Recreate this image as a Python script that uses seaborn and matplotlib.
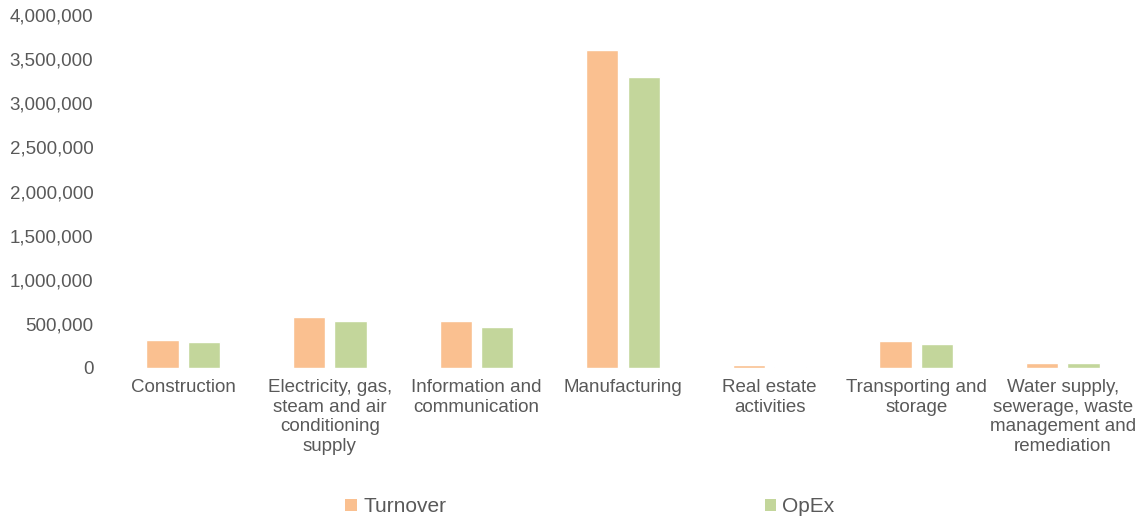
import matplotlib
matplotlib.use("Agg")
import matplotlib.pyplot as plt
import seaborn as sns
import pandas as pd
from matplotlib.ticker import FuncFormatter, MultipleLocator
from matplotlib.patches import Patch

categories = [
    "Construction",
    "Electricity, gas,\nsteam and air\nconditioning\nsupply",
    "Information and\ncommunication",
    "Manufacturing",
    "Real estate\nactivities",
    "Transporting and\nstorage",
    "Water supply,\nsewerage, waste\nmanagement and\nremediation",
]
turnover = [317000, 578000, 533000, 3605000, 34000, 306000, 57000]
opex = [295000, 533000, 465000, 3296000, 14000, 272000, 57000]
series = ["Turnover", "OpEx"]
colors = ["#FAC090", "#C3D69B"]

df = pd.DataFrame({
    "category": categories * 2,
    "value": turnover + opex,
    "series": [series[0]] * len(categories) + [series[1]] * len(categories),
})

sns.set_theme(style="white")
plt.rcParams["font.family"] = ["Liberation Sans", "DejaVu Sans"]

FS = 13.5
fig = plt.figure(figsize=(11.45, 5.2), dpi=100)
ax = fig.add_axes([110 / 1145, 1 - 368 / 520, (1136 - 110) / 1145, (368 - 15) / 520])

sns.barplot(data=df, x="category", y="value", hue="series", palette=colors,
            width=0.566, gap=0.22, ax=ax, legend=False, saturation=1)

ax.set_ylim(0, 4000000)
ax.yaxis.set_major_locator(MultipleLocator(500000))
ax.yaxis.set_major_formatter(FuncFormatter(lambda v, p: f"{int(v):,}"))
ax.set_xlabel("")
ax.set_ylabel("")
for s in ax.spines.values():
    s.set_visible(False)
ax.tick_params(axis="both", length=0, labelsize=FS, labelcolor="#595959")
ax.tick_params(axis="y", pad=12)
ax.tick_params(axis="x", pad=8)
for lbl in ax.get_xticklabels():
    lbl.set_linespacing(1.2)
    lbl.set_verticalalignment("top")

handles = [Patch(facecolor=c, edgecolor="none") for c in colors]
fig.legend(handles, series, loc="center", bbox_to_anchor=(590 / 1145, 1 - 507 / 520),
           ncol=2, frameon=False, fontsize=15, labelcolor="#595959",
           handlelength=0.55, handleheight=0.55, handletextpad=0.3, columnspacing=15.3)

fig.savefig("out.png", dpi=100)
